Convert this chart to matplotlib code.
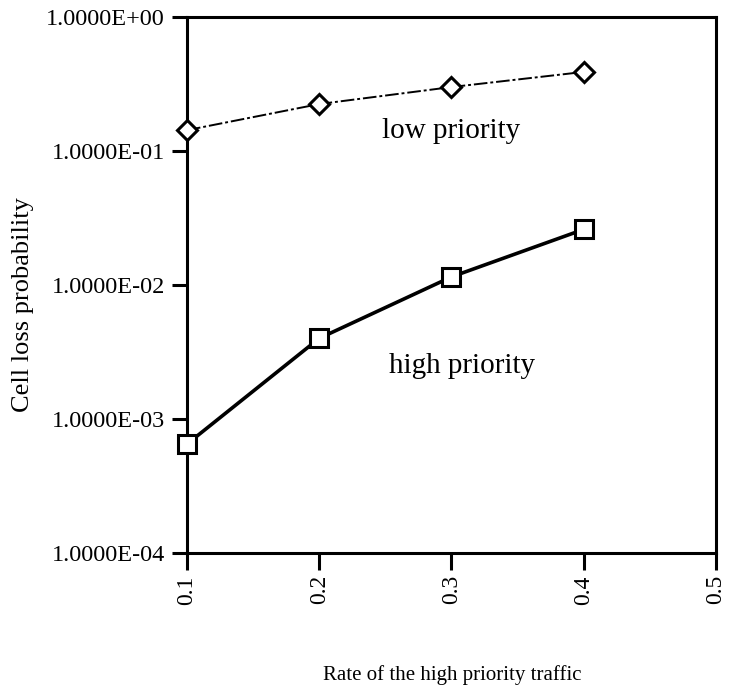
import matplotlib
matplotlib.use("Agg")
import matplotlib.pyplot as plt
from matplotlib.ticker import FixedLocator, FuncFormatter

# Cell loss probability versus the share of high priority traffic
rate = [0.1, 0.2, 0.3, 0.4]
low_priority = [0.143, 0.224, 0.30, 0.389]
high_priority = [6.5e-4, 4.0e-3, 1.15e-2, 2.6e-2]
x_ticks = [0.1, 0.2, 0.3, 0.4, 0.5]
y_ticks = [1e-4, 1e-3, 1e-2, 1e-1, 1e0]

serif = ["Liberation Serif", "DejaVu Serif"]
plt.rcParams["font.family"] = serif

fig = plt.figure(figsize=(7.37, 6.93), dpi=100)
ax = fig.add_axes([0.2537, 0.202, 0.9715 - 0.2537, 0.9755 - 0.202])

ax.plot(rate, low_priority, color="black", lw=1.4,
        linestyle=(0, (7, 1.5, 1.5, 1.5)),
        marker="D", markersize=10, markerfacecolor="white",
        markeredgecolor="black", markeredgewidth=2.2, clip_on=False, zorder=3)
ax.plot(rate, high_priority, color="black", lw=2.6, linestyle="-",
        marker="s", markersize=13, markerfacecolor="white",
        markeredgecolor="black", markeredgewidth=2.2, clip_on=False, zorder=3)

ax.set_yscale("log")
ax.set_ylim(1e-4, 1e0)
ax.set_xlim(0.1, 0.5)
ax.yaxis.set_major_locator(FixedLocator(y_ticks))
ax.yaxis.set_minor_locator(FixedLocator([]))
ax.yaxis.set_major_formatter(FuncFormatter(lambda v, p: "{:.4E}".format(v)))
ax.xaxis.set_major_locator(FixedLocator(x_ticks))
ax.xaxis.set_major_formatter(FuncFormatter(lambda v, p: "{:.1f}".format(v)))

for lbl in ax.get_xticklabels():
    lbl.set_rotation(90)
ax.tick_params(axis="x", direction="out", length=12, width=2.2, labelsize=17, pad=4)
ax.tick_params(axis="y", direction="out", length=11, width=2.2, labelsize=17.5, pad=5)

for s in ax.spines.values():
    s.set_linewidth(2.2)

ax.text(0.30, 0.14, "low priority", fontsize=21, ha="center", va="center")
ax.text(0.308, 2.5e-3, "high priority", fontsize=21, ha="center", va="center")

fig.text(0.031, 0.56, "Cell loss probability", fontsize=19, rotation=90,
         ha="center", va="center")
fig.text(0.613, 0.026, "Rate of the high priority traffic", fontsize=15,
         ha="center", va="center")

fig.savefig("out.png", dpi=100)
